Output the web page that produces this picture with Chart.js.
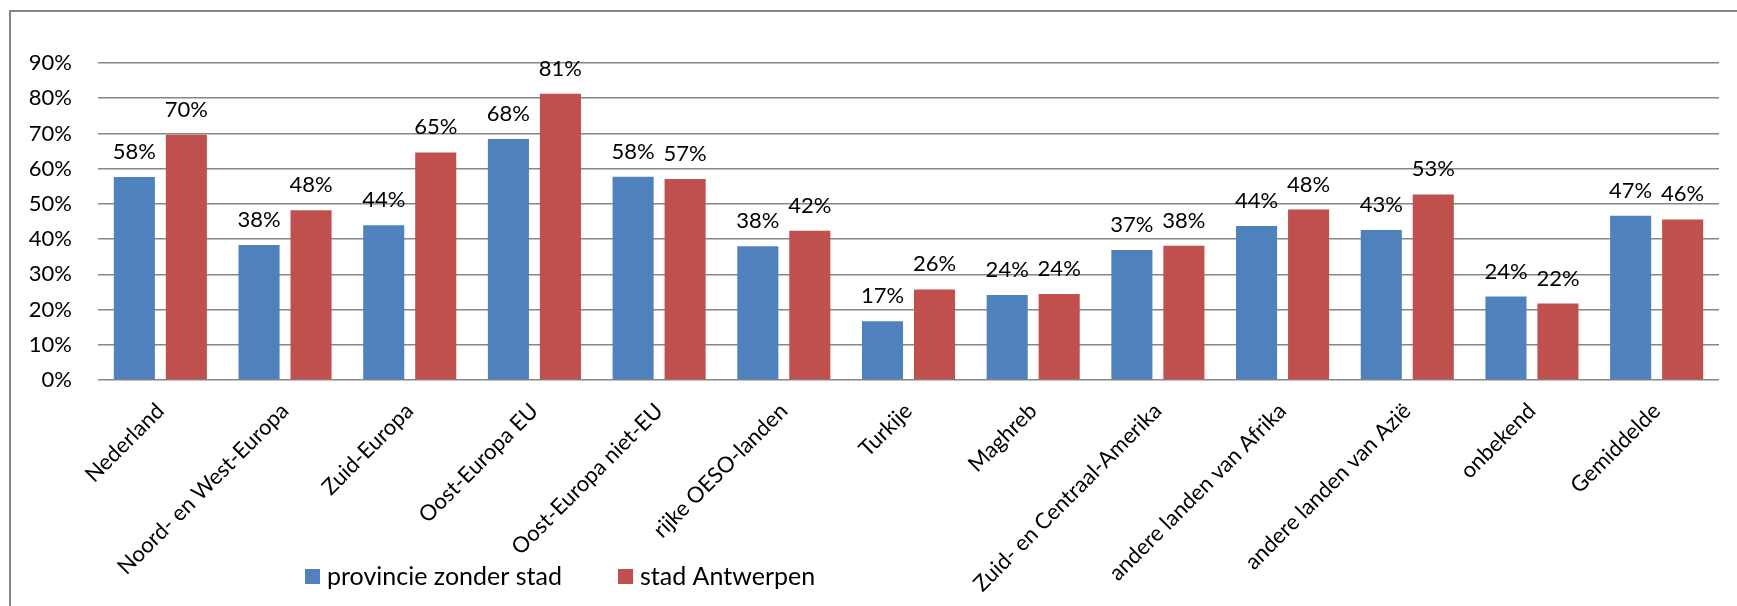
<!DOCTYPE html>
<html>
<head>
<meta charset="utf-8">
<script src="https://cdn.jsdelivr.net/npm/chart.js@4"></script>
<style>
  html, body { margin: 0; padding: 0; background: #ffffff; }
  #wrap { width: 1737px; height: 606px; position: relative; }
</style>
</head>
<body>
<div id="wrap"><canvas id="chart"></canvas></div>
<script>
const categories = [
  "Nederland", "Noord- en West-Europa", "Zuid-Europa", "Oost-Europa EU",
  "Oost-Europa niet-EU", "rijke OESO-landen", "Turkije", "Maghreb",
  "Zuid- en Centraal-Amerika", "andere landen van Afrika",
  "andere landen van Azië", "onbekend", "Gemiddelde"
];
const seriesNames = ["provincie zonder stad", "stad Antwerpen"];
const provincie = [57.6, 38.3, 43.9, 68.4, 57.7, 38.0, 16.7, 24.1, 36.9, 43.7, 42.6, 23.7, 46.6];
const antwerpen = [69.6, 48.2, 64.6, 81.3, 57.1, 42.4, 25.7, 24.4, 38.1, 48.4, 52.7, 21.7, 45.6];
const yTicks = [0, 10, 20, 30, 40, 50, 60, 70, 80, 90];
const colors = ["#4F81BD", "#C0504D"];

const FONT = "Lato, 'Open Sans', sans-serif";

// grey frame around the chart (cut off at right and bottom like the original)
const framePlugin = {
  id: "frame",
  beforeDraw(chart) {
    const c = chart.ctx;
    c.save();
    c.strokeStyle = "#868686";
    c.lineWidth = 2;
    c.strokeRect(10, 11, 2000, 1000);
    c.restore();
  }
};

// percentage labels above the bars
const valueLabels = {
  id: "valueLabels",
  afterDatasetsDraw(chart) {
    const c = chart.ctx;
    c.save();
    c.font = "22px " + FONT;
    c.fillStyle = "#000000";
    c.textAlign = "center";
    c.textBaseline = "alphabetic";
    chart.data.datasets.forEach((ds, i) => {
      chart.getDatasetMeta(i).data.forEach((bar, j) => {
        c.fillText(Math.round(ds.data[j]) + "%", bar.x, bar.y - 18);
      });
    });
    c.restore();
  }
};

// legend drawn over the label area, as in the original
const overlayLegend = {
  id: "overlayLegend",
  afterDraw(chart) {
    const c = chart.ctx;
    const starts = [305, 618];
    c.save();
    c.font = "25px " + FONT;
    c.textBaseline = "middle";
    c.textAlign = "left";
    chart.data.datasets.forEach((ds, i) => {
      const x = starts[i];
      c.fillStyle = ds.backgroundColor;
      c.fillRect(x, 569, 15, 15);
      c.fillStyle = "#000000";
      c.fillText(ds.label, x + 22, 577);
    });
    c.restore();
  }
};

new Chart(document.getElementById("chart"), {
  type: "bar",
  data: {
    labels: categories,
    datasets: [
      { label: seriesNames[0], data: provincie, backgroundColor: colors[0] },
      { label: seriesNames[1], data: antwerpen, backgroundColor: colors[1] }
    ]
  },
  options: {
    responsive: true,
    maintainAspectRatio: false,
    animation: false,
    datasets: {
      bar: { barPercentage: 0.79, categoryPercentage: 0.834 }
    },
    layout: { padding: { top: 63, right: 18, bottom: 0, left: 0 } },
    plugins: {
      legend: { display: false },
      tooltip: { enabled: false }
    },
    scales: {
      x: {
        grid: { display: false },
        border: { display: false },
        ticks: {
          autoSkip: false,
          maxRotation: 45,
          minRotation: 45,
          padding: 10,
          color: "#000000",
          font: { family: FONT, size: 22 }
        },
        afterFit(scale) { scale.height = 226; }
      },
      y: {
        min: 0,
        max: 90,
        afterBuildTicks(scale) { scale.ticks = yTicks.map(v => ({ value: v })); },
        grid: { color: "#868686", lineWidth: 1.5, drawTicks: false },
        border: { display: false },
        ticks: {
          padding: 26,
          color: "#000000",
          font: { family: FONT, size: 22 },
          callback: v => v + "%"
        },
        afterFit(scale) { scale.width = 98; }
      }
    }
  },
  plugins: [framePlugin, valueLabels, overlayLegend]
});
</script>
</body>
</html>
